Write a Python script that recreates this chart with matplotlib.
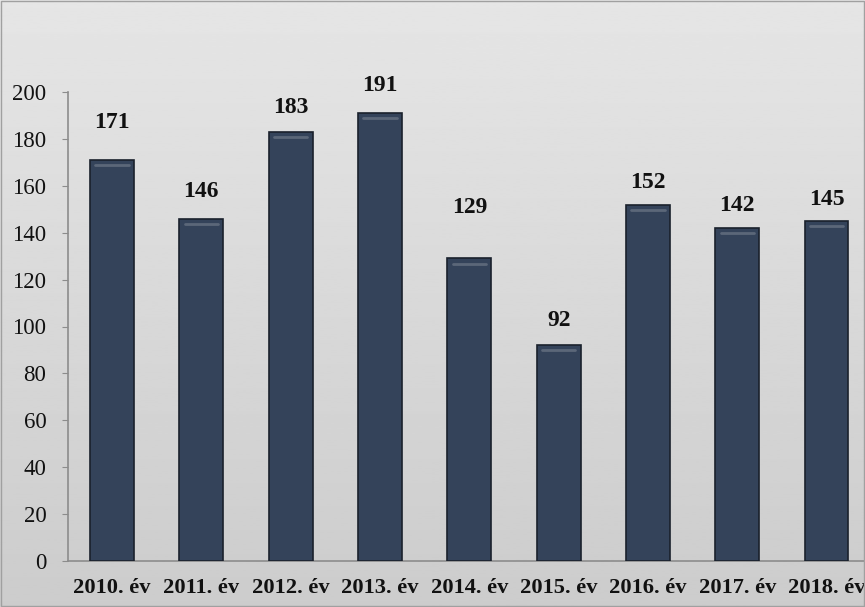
import numpy as np
import matplotlib.pyplot as plt

years = ["2010. év", "2011. év", "2012. év", "2013. év", "2014. év",
         "2015. év", "2016. év", "2017. év", "2018. év"]
values = [171, 146, 183, 191, 129, 92, 152, 142, 145]

# label gap above each bar top, in pixels (as placed in the original)
label_gaps = [38, 27, 24, 28, 51, 25, 22, 23, 21]

BAR_COLOR = "#34435a"
EDGE_COLOR = "#1a212c"
AXIS_COLOR = "#8c8c8c"
SERIF = ["Liberation Serif", "DejaVu Serif"]

fig = plt.figure(figsize=(8.65, 6.07), dpi=100)

# soft gray backdrop, lighter at the top
bg = fig.add_axes([0, 0, 1, 1], zorder=-10)
grad = np.linspace(0.90, 0.80, 256).reshape(-1, 1)
bg.imshow(grad, aspect="auto", cmap="gray", vmin=0, vmax=1, extent=[0, 1, 0, 1])
bg.set_xlim(0, 1)
bg.set_ylim(0, 1)
bg.axis("off")
fig.patches.append(plt.Rectangle((0.001, 0.001), 0.998, 0.998, transform=fig.transFigure,
                                 fill=False, edgecolor="#a0a0a0", linewidth=1))

ax = fig.add_axes([68 / 865, 1 - 561 / 607, 1 - 68 / 865, (561 - 92) / 607])
ax.patch.set_alpha(0)

x = np.arange(len(years))
bars = ax.bar(x, values, width=0.49, color=BAR_COLOR, edgecolor=EDGE_COLOR, linewidth=1.2, zorder=3)

# faint highlight near the top of each bar
for b in bars:
    ax.plot([b.get_x() + b.get_width() * 0.12, b.get_x() + b.get_width() * 0.88],
            [b.get_height() - 2.2] * 2, color="#76808e", linewidth=2, alpha=0.6,
            solid_capstyle="round", zorder=4)

for xi, v, gap in zip(x, values, label_gaps):
    ax.annotate(str(v), (xi, v), xytext=(0, gap), textcoords="offset pixels",
                ha="center", va="center", fontsize=17, fontweight="bold",
                family=SERIF, color="#111111")

ax.set_xlim(-0.493, 8.43)
ax.set_ylim(0, 200)
ax.set_yticks(range(0, 201, 20))
ax.set_xticks(x)
ax.set_xticklabels(years, fontsize=16.2, fontweight="bold", family=SERIF, color="#111111")
for lab in ax.get_yticklabels():
    lab.set_family(SERIF)
    lab.set_fontsize(16.5)
    lab.set_color("#111111")

ax.tick_params(axis="y", length=4.5, color=AXIS_COLOR, pad=11)
ax.tick_params(axis="x", length=0, pad=12)

for side in ["top", "right"]:
    ax.spines[side].set_visible(False)
for side in ["left", "bottom"]:
    ax.spines[side].set_color(AXIS_COLOR)
    ax.spines[side].set_linewidth(1.2)

plt.savefig("out.png", dpi=100)
